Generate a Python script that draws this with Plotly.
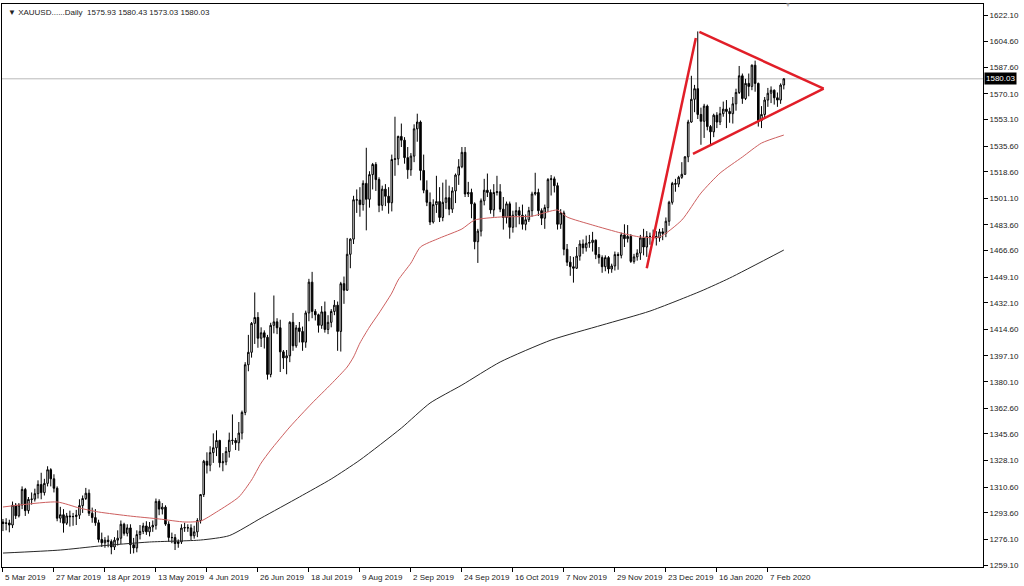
import pandas as pd
import plotly.graph_objects as go

# ---------------- data (XAUUSD daily) ----------------
dates = pd.bdate_range("2019-03-05", "2020-02-14").drop(
    pd.to_datetime(["2019-04-19", "2019-12-25", "2020-01-01"]))

opens = [
    # Mar 2019
    1287.5,1286.5,1286.9,1285.5,1298.6,1291.6,1298.7,1309.0,1295.0,1302.4,1302.6,1306.2,1312.3,1306.9,1313.0,1322.0,1316.0,1309.8,1290.0,
    # Apr
    1292.3,1286.7,1291.5,1291.0,1291.1,1292.0,1298.3,1303.0,1306.5,1293.3,1290.4,1287.0,1276.0,1273.8,1275.5,1274.6,1271.0,1275.5,1276.8,1286.0,1280.0,
    # May
    1283.6,1272.5,1270.4,1279.2,1281.3,1284.9,1281.0,1284.2,1285.3,1301.1,1296.0,1297.3,1286.1,1277.3,1277.2,1273.3,1274.4,1283.5,1283.8,1283.6,1278.4,1281.0,1288.5,
    # Jun
    1305.6,1327.6,1325.0,1333.3,1336.5,1341.3,1326.6,1327.2,1334.0,1341.5,1341.3,1339.8,1346.2,1359.8,1391.3,1399.5,1418.6,1422.5,1408.8,1412.4,
    # Jul
    1409.4,1384.9,1417.3,1419.6,1415.7,1399.8,1395.8,1397.2,1419.3,1403.8,1415.6,1413.3,1406.2,1425.5,1445.8,1426.5,1424.3,1417.3,1426.2,1414.6,1419.3,1426.5,1430.6,
    # Aug
    1413.3,1444.8,1440.5,1464.2,1474.2,1500.2,1500.0,1497.0,1511.0,1500.5,1516.8,1523.5,1513.5,1496.5,1507.2,1502.5,1498.2,1526.8,1527.2,1542.0,1539.5,1528.0,
    # Sep
    1520.0,1529.0,1547.0,1551.5,1519.5,1506.5,1498.5,1485.5,1497.0,1499.0,1488.5,1498.5,1501.5,1494.0,1506.0,1516.5,1522.0,1531.5,1504.0,1505.0,1497.5,
    # Oct
    1472.5,1479.5,1499.5,1506.5,1505.0,1493.5,1505.0,1505.5,1494.0,1488.5,1497.5,1482.0,1490.0,1493.0,1490.0,1484.0,1487.0,1493.0,1504.0,1505.0,1493.0,1488.0,1495.0,
    # Nov
    1513.5,1514.0,1509.5,1484.0,1491.5,1467.5,1459.0,1456.0,1455.0,1463.0,1471.0,1468.5,1471.5,1472.0,1473.5,1464.0,1462.0,1456.0,1462.0,1454.5,1456.5,
    # Dec
    1464.0,1463.5,1477.0,1474.5,1476.0,1459.5,1462.5,1465.0,1475.0,1469.0,1476.0,1476.0,1476.0,1475.0,1479.0,1478.0,1486.0,1498.5,1511.0,1510.5,1515.0,
    # Jan 2020
    1517.0,1528.5,1551.5,1566.5,1573.5,1556.5,1552.0,1562.0,1548.5,1545.0,1556.0,1551.5,1557.0,1560.0,1558.5,1557.0,1563.5,1571.0,1582.0,1567.0,1577.0,1575.0,
    # Feb
    1589.0,1577.0,1552.5,1556.5,1566.0,1570.5,1572.5,1567.5,1566.0,1575.93,
]

highs = [
    1289.5,1290.0,1289.0,1301.0,1300.0,1300.0,1311.0,1310.0,1304.0,1307.0,1309.5,1315.0,1320.0,1316.0,1324.3,1323.0,1319.0,1311.0,1297.5,
    1296.0,1293.5,1295.0,1293.5,1295.5,1302.5,1305.0,1310.0,1309.0,1297.0,1296.0,1289.0,1280.5,1277.5,1278.6,1276.0,1277.5,1282.0,1288.5,1287.0,1286.0,
    1286.0,1277.0,1282.0,1285.5,1287.0,1288.0,1287.5,1288.5,1303.0,1302.5,1300.0,1298.5,1288.0,1280.5,1279.5,1276.0,1286.0,1287.0,1286.0,1286.0,1285.0,1290.0,1306.0,
    1328.5,1333.5,1337.5,1346.0,1348.0,1341.8,1333.0,1337.0,1346.5,1358.5,1343.0,1353.5,1361.0,1393.0,1411.0,1419.5,1439.0,1426.0,1416.0,1414.0,
    1411.0,1419.0,1437.0,1422.0,1421.0,1401.0,1401.0,1420.0,1425.5,1417.5,1419.5,1416.5,1427.0,1448.0,1452.6,1428.0,1425.0,1430.0,1433.0,1424.0,1428.0,1434.0,1433.0,
    1446.0,1449.5,1475.0,1474.8,1502.8,1507.0,1508.5,1513.0,1534.5,1519.0,1524.5,1525.0,1515.0,1509.5,1510.5,1508.5,1530.0,1555.0,1542.5,1550.5,1541.5,1535.0,
    1531.0,1550.0,1557.0,1552.5,1530.0,1513.0,1505.0,1500.5,1516.0,1508.5,1511.5,1513.5,1509.5,1508.5,1517.5,1527.0,1535.0,1535.0,1512.0,1507.5,1498.5,
    1481.0,1501.0,1514.0,1517.5,1507.0,1510.5,1516.0,1510.5,1502.0,1499.0,1499.0,1493.0,1498.5,1495.5,1497.0,1490.5,1495.5,1505.5,1518.0,1507.5,1494.5,1497.0,1514.5,
    1516.5,1515.5,1511.5,1494.0,1493.0,1471.0,1463.0,1462.5,1469.0,1473.5,1474.0,1476.5,1477.0,1479.0,1474.0,1469.0,1463.5,1463.5,1463.0,1458.0,1466.0,
    1465.5,1478.5,1484.0,1483.5,1477.5,1464.5,1467.5,1477.0,1481.0,1479.5,1478.5,1480.5,1479.5,1481.0,1481.5,1488.5,1499.5,1512.0,1514.0,1516.0,1525.0,
    1529.0,1553.0,1582.0,1576.0,1611.3,1561.0,1563.5,1563.0,1549.5,1557.0,1558.0,1561.5,1565.0,1566.0,1561.0,1568.0,1573.5,1588.5,1583.5,1580.0,1583.5,1589.5,
    1592.0,1577.5,1562.0,1568.0,1574.0,1575.0,1573.0,1571.0,1577.0,1580.43,
]

lows = [
    1281.5,1282.0,1280.7,1283.5,1289.5,1290.5,1296.0,1291.5,1293.0,1299.0,1301.0,1303.0,1302.5,1305.0,1311.0,1311.0,1307.0,1288.0,1287.0,
    1280.5,1285.5,1284.5,1285.0,1285.5,1289.5,1293.5,1302.0,1291.5,1287.0,1285.0,1274.0,1271.0,1270.5,1270.8,1266.2,1269.0,1272.0,1273.0,1278.5,1278.0,
    1266.5,1266.8,1267.5,1276.0,1279.5,1279.0,1278.0,1281.0,1282.5,1292.0,1292.5,1285.0,1274.5,1273.5,1269.0,1270.5,1273.0,1281.0,1281.0,1275.5,1276.5,1277.5,1286.5,
    1304.0,1319.5,1321.0,1326.5,1331.0,1323.5,1321.0,1325.0,1330.0,1338.5,1335.0,1334.5,1342.0,1358.0,1387.0,1396.0,1405.0,1402.5,1403.0,1402.0,
    1381.5,1383.0,1412.0,1411.5,1386.5,1388.5,1385.0,1393.0,1400.5,1402.5,1406.0,1400.5,1402.5,1420.0,1422.0,1420.5,1412.5,1415.0,1412.5,1411.5,1416.0,1424.0,1400.5,
    1400.0,1431.5,1440.0,1455.0,1471.0,1491.5,1489.0,1493.0,1480.0,1495.0,1507.0,1506.0,1492.0,1493.0,1496.0,1491.0,1492.5,1516.0,1523.0,1535.0,1524.0,1514.0,
    1516.0,1525.0,1538.5,1513.0,1504.5,1496.0,1483.5,1484.5,1491.5,1485.5,1486.0,1494.0,1490.0,1491.5,1498.0,1510.0,1521.0,1502.0,1502.0,1488.0,1467.5,
    1458.5,1476.0,1496.5,1502.0,1491.0,1489.0,1503.0,1492.0,1480.5,1484.5,1474.5,1478.5,1482.0,1484.0,1480.5,1480.0,1485.5,1489.0,1503.0,1489.5,1483.5,1481.0,1492.0,
    1503.0,1505.0,1480.5,1481.0,1463.5,1456.5,1450.0,1445.5,1454.5,1460.0,1464.5,1466.0,1468.5,1466.0,1461.0,1458.0,1452.0,1453.0,1451.5,1452.0,1453.5,
    1454.0,1461.5,1469.0,1472.0,1458.5,1458.0,1460.0,1460.5,1463.5,1462.5,1470.5,1473.5,1470.0,1472.5,1473.5,1475.5,1483.0,1497.0,1505.5,1508.5,1514.0,
    1516.5,1525.0,1551.0,1558.0,1553.5,1536.5,1541.0,1546.0,1536.0,1541.5,1547.5,1549.5,1555.0,1547.5,1551.0,1550.5,1559.0,1570.0,1563.5,1566.0,1568.5,1572.5,
    1571.5,1548.5,1547.5,1553.5,1561.5,1564.0,1563.0,1561.5,1563.5,1573.03,
]

closes = [
    1286.5,1286.9,1285.5,1298.6,1291.6,1298.7,1309.0,1295.0,1302.4,1302.6,1306.2,1312.3,1306.9,1313.0,1322.0,1316.0,1309.8,1290.0,1292.3,
    1286.7,1291.5,1291.0,1291.1,1292.0,1298.3,1303.0,1306.5,1293.3,1290.4,1287.0,1276.0,1273.8,1275.5,1274.6,1271.0,1275.5,1276.8,1286.0,1280.0,1283.6,
    1272.5,1270.4,1279.2,1281.3,1284.9,1281.0,1284.2,1285.3,1301.1,1296.0,1297.3,1286.1,1277.3,1277.2,1273.3,1274.4,1283.5,1283.8,1283.6,1278.4,1281.0,1288.5,1305.6,
    1327.6,1325.0,1333.3,1336.5,1341.3,1326.6,1327.2,1334.0,1341.5,1341.3,1339.8,1346.2,1359.8,1391.3,1399.5,1418.6,1422.5,1408.8,1412.4,1409.4,
    1384.9,1417.3,1419.6,1415.7,1399.8,1395.8,1397.2,1419.3,1403.8,1415.6,1413.3,1406.2,1425.5,1445.8,1426.5,1424.3,1417.3,1426.2,1414.6,1419.3,1426.5,1430.6,1413.3,
    1444.8,1440.5,1464.2,1474.2,1500.2,1500.0,1497.0,1511.0,1500.5,1516.8,1523.5,1513.5,1496.5,1507.2,1502.5,1498.2,1526.8,1527.2,1542.0,1539.5,1528.0,1520.0,
    1529.0,1547.0,1551.5,1519.5,1506.5,1498.5,1485.5,1497.0,1499.0,1488.5,1498.5,1501.5,1494.0,1506.0,1516.5,1522.0,1531.5,1504.0,1505.0,1497.5,1472.5,
    1479.5,1499.5,1506.5,1505.0,1493.5,1505.0,1505.5,1494.0,1488.5,1497.5,1482.0,1490.0,1493.0,1490.0,1484.0,1487.0,1493.0,1504.0,1505.0,1493.0,1488.0,1495.0,1513.5,
    1514.0,1509.5,1484.0,1491.5,1467.5,1459.0,1456.0,1455.0,1463.0,1471.0,1468.5,1471.5,1472.0,1473.5,1464.0,1462.0,1456.0,1462.0,1454.5,1456.5,1464.0,
    1463.5,1477.0,1474.5,1476.0,1459.5,1462.5,1465.0,1475.0,1469.0,1476.0,1476.0,1476.0,1475.0,1479.0,1478.0,1486.0,1498.5,1511.0,1510.5,1515.0,1517.0,
    1528.5,1551.5,1566.5,1573.5,1556.5,1552.0,1562.0,1548.5,1545.0,1556.0,1551.5,1557.0,1560.0,1558.5,1557.0,1563.5,1571.0,1582.0,1567.0,1577.0,1575.0,1589.0,
    1577.0,1552.5,1556.5,1566.0,1570.5,1572.5,1567.5,1566.0,1575.9,1580.03,
]

# moving averages (bar index, price)
ma_red_idx = [0,17,24,30,40,49,57,62,67,74,78,81,84,90,97,103,108,110,112,115,118,122,124,128,131,137,144,148,156,166,174,177,185,194,200,206,213,219,225,232,238,245]
ma_red_val = [1297.4,1300.7,1296.7,1294.1,1291.4,1289.5,1287.5,1288.1,1294.1,1304.0,1315.2,1326.4,1335.0,1350.2,1366.0,1378.6,1389.8,1396.4,1405.6,1416.2,1425.4,1438.6,1447.2,1458.4,1469.0,1474.9,1480.9,1486.8,1488.8,1489.4,1493.4,1488.8,1483.5,1478.2,1475.6,1475.6,1486.8,1504.6,1517.8,1528.4,1537.6,1542.9]
ma_blk_idx = [0,18,30,46,62,71,81,93,103,112,125,134,144,156,172,188,203,219,228,245]
ma_blk_val = [1267.0,1269.0,1271.6,1274.3,1275.6,1278.5,1290.1,1304.0,1315.9,1328.4,1349.5,1366.0,1377.9,1393.1,1407.6,1417.5,1426.7,1439.9,1448.5,1467.0]

# hand-drawn triangle (bar index, price)
tri_rise_x, tri_rise_y = [202.0, 217.4], [1455.0, 1607.0]
tri_top_x, tri_top_y = [218.5, 257.5], [1611.0, 1573.5]
tri_bot_x, tri_bot_y = [216.5, 257.5], [1530.5, 1573.5]

# axis labels
price_ticks = [1622.10,1604.60,1587.60,1570.10,1553.10,1535.60,1518.60,1501.10,1483.60,1466.60,
               1449.10,1432.10,1414.60,1397.10,1380.10,1362.60,1345.60,1328.10,1310.60,1293.60,1276.10,1259.10]
date_ticks = ["2019-03-05","2019-03-27","2019-04-18","2019-05-13","2019-06-04","2019-06-26","2019-07-18",
              "2019-08-09","2019-09-02","2019-09-24","2019-10-16","2019-11-07","2019-11-29","2019-12-23",
              "2020-01-16","2020-02-07"]

# ---------------- figure ----------------
bars = list(range(len(dates)))
FONT = "Liberation Sans, Arial, sans-serif"

fig = go.Figure()
fig.add_trace(go.Candlestick(
    x=bars, open=opens, high=highs, low=lows, close=closes,
    increasing=dict(line=dict(color="black", width=1), fillcolor="white"),
    decreasing=dict(line=dict(color="black", width=1), fillcolor="black"),
    whiskerwidth=0, hoverinfo="skip", showlegend=False))
fig.add_trace(go.Scatter(x=ma_red_idx, y=ma_red_val, mode="lines",
                         line=dict(color="rgb(205,95,95)", width=1, shape="spline", smoothing=0.6),
                         hoverinfo="skip", showlegend=False))
fig.add_trace(go.Scatter(x=ma_blk_idx, y=ma_blk_val, mode="lines",
                         line=dict(color="rgb(40,40,40)", width=1, shape="spline", smoothing=0.6),
                         hoverinfo="skip", showlegend=False))
for tx, ty in [(tri_rise_x, tri_rise_y), (tri_top_x, tri_top_y), (tri_bot_x, tri_bot_y)]:
    fig.add_trace(go.Scatter(x=tx, y=ty, mode="lines",
                             line=dict(color="rgb(225,30,40)", width=2.5),
                             hoverinfo="skip", showlegend=False))

# current price line
last = closes[-1]
fig.add_hline(y=last, line=dict(color="rgb(185,185,185)", width=1), layer="below")

tick_pos = [dates.get_loc(pd.Timestamp(d)) for d in date_ticks]
tick_txt = [f"{pd.Timestamp(d).day} {pd.Timestamp(d).strftime('%b %Y')}" for d in date_ticks]

annotations = []
for p, t in zip(tick_pos, tick_txt):
    annotations.append(dict(x=p, xref="x", y=0, yref="paper", text=t, showarrow=False,
                            xanchor="left", yanchor="top", xshift=0, yshift=-4,
                            font=dict(family=FONT, size=8, color="#222")))
annotations.append(dict(x=1, xref="paper", y=last, yref="y", text=f"{last:.2f}", showarrow=False,
                        xanchor="left", yanchor="middle", xshift=1, bgcolor="black", borderpad=1,
                        font=dict(family=FONT, size=8, color="white")))
header = f"\u25BC XAUUSD......Daily  {opens[-1]:.2f} {highs[-1]:.2f} {lows[-1]:.2f} {closes[-1]:.2f}"
annotations.append(dict(x=0, xref="paper", y=1, yref="paper", text=header, showarrow=False,
                        xanchor="left", yanchor="top", xshift=4, yshift=-2,
                        font=dict(family=FONT, size=8, color="#222")))
# small chart-shift marker at the top edge
annotations.append(dict(x=0.801, xref="paper", y=1, yref="paper", text="\u25BC", showarrow=False,
                        xanchor="center", yanchor="middle", yshift=-1,
                        font=dict(family=FONT, size=6, color="#b0b0b0")))

fig.update_layout(
    width=1024, height=586,
    margin=dict(l=2, r=41, t=4, b=19),
    paper_bgcolor="white", plot_bgcolor="white",
    showlegend=False,
    annotations=annotations,
    font=dict(family=FONT, size=8, color="#222"),
    xaxis=dict(range=[-0.3, 307.5], showgrid=False, zeroline=False,
               showline=True, linecolor="black", linewidth=1, mirror=True,
               ticks="outside", ticklen=4, tickcolor="black", tickwidth=1,
               tickvals=tick_pos, showticklabels=False,
               rangeslider=dict(visible=False), fixedrange=True),
    yaxis=dict(side="right", range=[1257.8, 1629.4], showgrid=False, zeroline=False,
               showline=True, linecolor="black", linewidth=1, mirror=True,
               ticks="outside", ticklen=4, tickcolor="black", tickwidth=1,
               tickvals=price_ticks, ticktext=[f"{v:.2f}" for v in price_ticks],
               tickfont=dict(family=FONT, size=8, color="#222"), fixedrange=True),
)

fig.write_html("out.html",
               config={"displayModeBar": False, "staticPlot": True},
               post_script="document.body.style.margin='0';document.body.style.overflow='hidden';")
